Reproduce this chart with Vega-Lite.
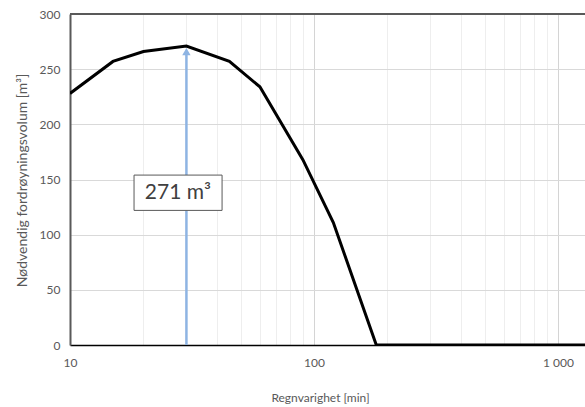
{
  "$schema": "https://vega.github.io/schema/vega-lite/v6.json",
  "width": 515,
  "height": 331,
  "autosize": {"type": "none"},
  "padding": {"left": 70, "top": 14, "right": 0, "bottom": 62},
  "background": "white",
  "config": {
    "view": {"stroke": null},
    "font": "Lato",
    "axis": {"labelFont": "Lato", "titleFont": "Lato", "labelColor": "#595959", "titleColor": "#595959", "labelFontSize": 12, "titleFontSize": 12, "titleFontWeight": "normal"}
  },
  "datasets": {
    "curve": [
      {"varighet": 10, "volum": 228},
      {"varighet": 15, "volum": 257},
      {"varighet": 20, "volum": 266},
      {"varighet": 30, "volum": 271},
      {"varighet": 45, "volum": 257},
      {"varighet": 60, "volum": 234},
      {"varighet": 90, "volum": 168},
      {"varighet": 120, "volum": 111},
      {"varighet": 180, "volum": 0},
      {"varighet": 240, "volum": 0},
      {"varighet": 360, "volum": 0},
      {"varighet": 720, "volum": 0},
      {"varighet": 1440, "volum": 0}
    ],
    "peak": [
      {"varighet": 30, "volum": 271, "label": "271 m³"}
    ]
  },
  "layer": [
    {
      "data": {"name": "curve"},
      "mark": {"type": "line", "color": "black", "strokeWidth": 3, "clip": true},
      "encoding": {
        "x": {
          "field": "varighet", "type": "quantitative",
          "scale": {"type": "log", "domain": [10, 1290], "nice": false},
          "axis": {
            "title": "Regnvarighet [min]",
            "values": [10, 20, 30, 40, 50, 60, 70, 80, 90, 100, 200, 300, 400, 500, 600, 700, 800, 900, 1000],
            "labelExpr": "datum.value == 10 ? '10' : datum.value == 100 ? '100' : datum.value == 1000 ? '1 000' : ''",
            "grid": true,
            "gridColor": {"condition": {"test": "datum.value == 100 || datum.value == 1000", "value": "#d4d4d4"}, "value": "#eeeeee"},
            "gridWidth": 1,
            "ticks": false,
            "domain": true,
            "domainColor": "#000000",
            "domainWidth": 1.5,
            "labelPadding": 12,
            "labelFlush": false,
            "labelOverlap": false,
            "titleX": 250,
            "titleY": 52,
            "titleBaseline": "middle"
          }
        },
        "y": {
          "field": "volum", "type": "quantitative",
          "scale": {"domain": [0, 300], "nice": false},
          "axis": {
            "title": "Nødvendig fordrøyningsvolum [m³]",
            "values": [0, 50, 100, 150, 200, 250, 300],
            "grid": true,
            "gridColor": "#d9d9d9",
            "gridWidth": 1,
            "ticks": false,
            "domain": true,
            "domainColor": "#595959",
            "domainWidth": 2,
            "labelPadding": 10,
            "labelFlush": false,
            "titleFontSize": 14,
            "titleX": -48,
            "titleY": 166,
            "titleBaseline": "middle"
          }
        }
      }
    },
    {
      "data": {"name": "peak"},
      "mark": {"type": "rule", "color": "#595959", "strokeWidth": 2},
      "encoding": {"y": {"datum": 300}}
    },
    {
      "data": {"name": "peak"},
      "mark": {"type": "rule", "color": "#8eb4e3", "strokeWidth": 2.5},
      "encoding": {
        "x": {"field": "varighet", "type": "quantitative"},
        "y": {"datum": 0},
        "y2": {"datum": 264}
      }
    },
    {
      "data": {"name": "peak"},
      "mark": {"type": "point", "shape": "triangle-up", "filled": true, "color": "#8eb4e3", "size": 70, "opacity": 1},
      "encoding": {
        "x": {"field": "varighet", "type": "quantitative"},
        "y": {"datum": 266}
      }
    },
    {
      "data": {"name": "peak"},
      "mark": {"type": "rect", "fill": "white", "stroke": "#595959", "strokeWidth": 1},
      "encoding": {
        "x": {"datum": 18.3},
        "x2": {"datum": 42},
        "y": {"datum": 122},
        "y2": {"datum": 154}
      }
    },
    {
      "data": {"name": "peak"},
      "mark": {"type": "text", "fontSize": 21, "color": "#404040", "font": "Lato", "baseline": "middle", "align": "center"},
      "encoding": {
        "x": {"datum": 27.7},
        "y": {"datum": 138},
        "text": {"field": "label"}
      }
    }
  ]
}
